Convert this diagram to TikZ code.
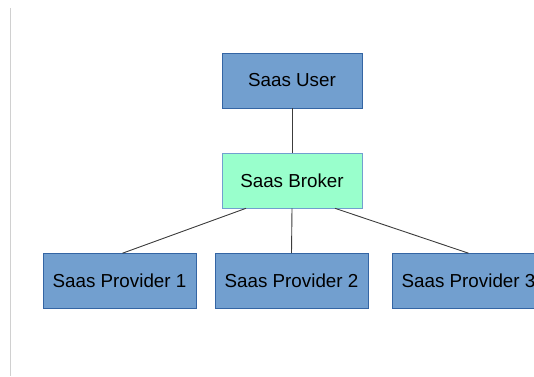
\documentclass[tikz,border=0pt]{standalone}
\usepackage{fontspec}
\setmainfont{Liberation Sans}
\definecolor{boxblue}{HTML}{729FCF}
\definecolor{edgeblue}{HTML}{3465A4}
\definecolor{brokergreen}{HTML}{99FFCC}
\definecolor{linkgray}{HTML}{3C3C3C}
\definecolor{marginline}{HTML}{D0D0D0}
\begin{document}
\begin{tikzpicture}[x=1pt,y=-1pt,
  tierbox/.style={draw=edgeblue,line width=0.6pt,minimum height=55pt,
    inner sep=0pt,font=\fontsize{18.8}{22}\selectfont,text=black},
  userbox/.style={tierbox,fill=boxblue,minimum width=140pt},
  brokerbox/.style={tierbox,fill=brokergreen,draw=boxblue,minimum width=140pt},
  providerbox/.style={tierbox,fill=boxblue,minimum width=153pt},
  link/.style={draw=linkgray,line width=0.9pt}]
  \useasboundingbox (0,0) rectangle (534,376);
  \clip (0,0) rectangle (534,376);
  % page margin rule
  \draw[marginline,line width=1pt] (10.5,8) -- (10.5,376);
  % tiers
  \node[userbox] (user) at (292,80.5) {Saas User};
  \node[brokerbox] (broker) at (292,180.5) {Saas Broker};
  \node[providerbox] (p1) at (119.5,281) {Saas Provider 1};
  \node[providerbox] (p2) at (291.5,281) {Saas Provider 2};
  \node[providerbox] (p3) at (468.5,281) {Saas Provider 3};
  % connectors
  \coordinate (bl) at ([xshift=-46pt]broker.south);
  \coordinate (br) at ([xshift=43pt]broker.south);
  \coordinate (p1top) at ([xshift=3pt]p1.north);
  \draw[link] (user.south) -- (broker.north);
  \draw[link] (bl) -- (p1top);
  \draw[link] (broker.south) -- (p2.north);
  \draw[link] (br) -- (p3.north);
\end{tikzpicture}
\end{document}
